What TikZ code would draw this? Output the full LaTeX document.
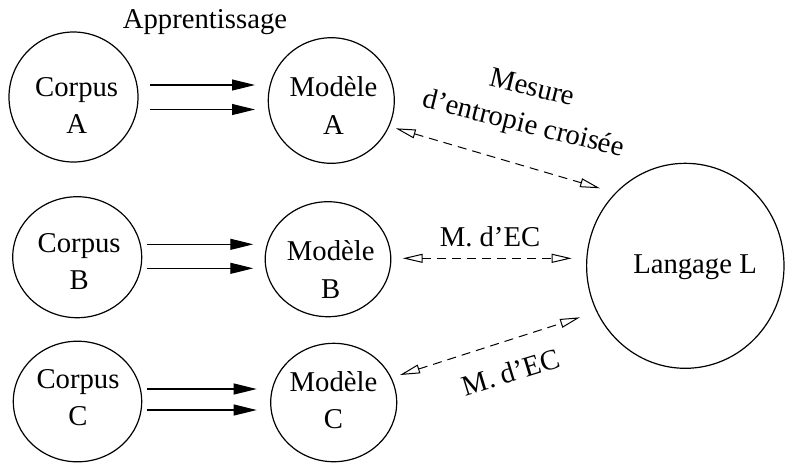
\documentclass[tikz,border=0pt]{standalone}
\usepackage{fontspec}
\setmainfont{Liberation Serif}
\usetikzlibrary{shapes.geometric,arrows.meta}
\begin{document}
\begin{tikzpicture}[x=0.5pt,y=-0.5pt,
  every node/.style={font=\fontsize{14.35pt}{18.6pt}\selectfont},
  blob/.style={draw, ellipse, inner sep=0pt, line width=0.6pt},
  lbl/.style={align=center, inner sep=0pt},
  flow/.style={line width=0.55pt, -{Triangle[length=11.5pt,width=5.5pt]}},
  ce/.style={line width=0.5pt, dash pattern=on 4.5pt off 3pt,
    {Triangle[open,length=10pt,width=4.5pt]}-{Triangle[open,length=10pt,width=4.5pt]}}
]
\useasboundingbox (0,0) rectangle (786,463);

% ellipses
\node[blob, minimum width=64.5pt, minimum height=65pt] (cA) at (73.5,97) {};
\node[blob, minimum width=64.5pt, minimum height=60.5pt] (cB) at (77.2,257.2) {};
\node[blob, minimum width=64.2pt, minimum height=60.3pt] (cC) at (77.5,401.5) {};
\node[blob, minimum width=63pt, minimum height=62.8pt] (mA) at (331.3,100.5) {};
\node[blob, minimum width=62.8pt, minimum height=57.5pt] (mB) at (328,259.2) {};
\node[blob, minimum width=63pt, minimum height=59.2pt] (mC) at (333.7,402.5) {};
\node[blob, minimum width=98.7pt, minimum height=102.5pt] (L) at (685.3,265.8) {};

% texts in ellipses
\node[lbl] (tcA) at (76.7,105.2) {Corpus\\A};
\node[lbl] (tcB) at (79.2,261.4) {Corpus\\B};
\node[lbl] (tcC) at (78,397.6) {Corpus\\C};
\node[lbl] (tmA) at (333.5,105.5) {Modèle\\A};
\node[lbl] (tmB) at (330.8,269.5) {Modèle\\B};
\node[lbl] (tmC) at (333.5,400.1) {Modèle\\C};
\node[lbl] (tL) at (695,267.4) {Langage L};

% other labels
\node[lbl] (app) at (205,21.6) {Apprentissage};
\node[lbl, rotate=-14] (mes) at (527.5,107.5) {Mesure\\d’entropie croisée};
\node[lbl] (mb) at (490,237) {M. d’EC};
\node[lbl, rotate=17] (mc) at (511,372) {M. d’EC};

% learning arrows
\draw[flow] ([shift={(76.5,-12)}]cA.center) -- ([shift={(-76.3,-15.5)}]mA.center);
\draw[flow] ([shift={(76.5,12.5)}]cA.center) -- ([shift={(-76.3,9)}]mA.center);
\draw[flow] ([shift={(69.5,-12.9)}]cB.center) -- ([shift={(-74.7,-14.9)}]mB.center);
\draw[flow] ([shift={(69.5,11.1)}]cB.center) -- ([shift={(-74.7,9.1)}]mB.center);
\draw[flow] ([shift={(69.2,-12.5)}]cC.center) -- ([shift={(-77,-13.5)}]mC.center);
\draw[flow] ([shift={(69.2,8.5)}]cC.center) -- ([shift={(-77,7.5)}]mC.center);

% cross-entropy measures
\draw[ce] ([shift={(64.4,27.8)}]mA.center) -- ([shift={(-85.3,-77.5)}]L.center);
\draw[ce] ([shift={(74.7,-0.9)}]mB.center) -- ([shift={(-113.6,-7.5)}]L.center);
\draw[ce] ([shift={(66.3,-27.5)}]mC.center) -- ([shift={(-105.3,51.5)}]L.center);
\end{tikzpicture}
\end{document}
